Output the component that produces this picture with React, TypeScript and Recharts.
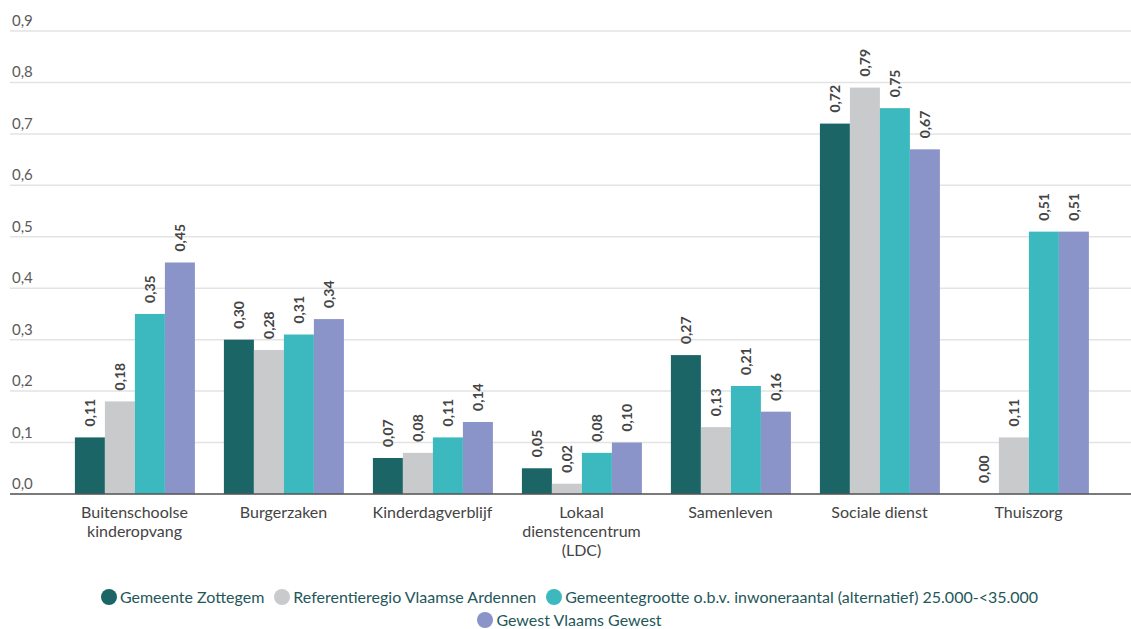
import { BarChart, Bar, XAxis, YAxis, CartesianGrid, Legend } from "recharts";

const categories = [
	"Buitenschoolse\nkinderopvang",
	"Burgerzaken",
	"Kinderdagverblijf",
	"Lokaal\ndienstencentrum\n(LDC)",
	"Samenleven",
	"Sociale dienst",
	"Thuiszorg",
];

const zottegem = [0.11, 0.3, 0.07, 0.05, 0.27, 0.72, 0.0];
const referentieregio = [0.18, 0.28, 0.08, 0.02, 0.13, 0.79, 0.11];
const gemeentegrootte = [0.35, 0.31, 0.11, 0.08, 0.21, 0.75, 0.51];
const gewest = [0.45, 0.34, 0.14, 0.1, 0.16, 0.67, 0.51];

const yTicks = [0, 0.1, 0.2, 0.3, 0.4, 0.5, 0.6, 0.7, 0.8, 0.9];

const series = [
	{ key: "zottegem", name: "Gemeente Zottegem", color: "#1b6567" },
	{ key: "referentieregio", name: "Referentieregio Vlaamse Ardennen", color: "#c9cacc" },
	{ key: "gemeentegrootte", name: "Gemeentegrootte o.b.v. inwoneraantal (alternatief) 25.000-<35.000", color: "#3bb9be" },
	{ key: "gewest", name: "Gewest Vlaams Gewest", color: "#8a94c8" },
];

const data = categories.map((cat, i) => ({
	cat,
	zottegem: zottegem[i],
	referentieregio: referentieregio[i],
	gemeentegrootte: gemeentegrootte[i],
	gewest: gewest[i],
}));

const FONT = "Lato, 'Noto Sans', sans-serif";

const fmt = (v: number, d: number) => v.toFixed(d).replace(".", ",");

const XTick = (props: any) => {
	const { x, y, payload } = props;
	const lines = String(payload.value).split("\n");
	return (
		<text x={x} y={y} textAnchor="middle" fill="#444" fontSize={16} fontFamily={FONT}>
			{lines.map((l, i) => (
				<tspan key={i} x={x} dy={i === 0 ? 16 : 19}>
					{l}
				</tspan>
			))}
		</text>
	);
};

const YTick = (props: any) => {
	const { y, payload } = props;
	return (
		<text x={12} y={y - 5} textAnchor="start" fill="#5a5a5a" fontSize={15} fontFamily={FONT}>
			{fmt(payload.value, 1)}
		</text>
	);
};

// bar rect plus rotated value label (so zero values still get a label)
const BarShape = (props: any) => {
	const { x, y, width, height, fill, value } = props;
	const v = Array.isArray(value) ? value[1] - value[0] : value;
	const cx = x + width / 2;
	const cy = y - 11;
	return (
		<g>
			{height > 0 && <rect x={x} y={y} width={width} height={height} fill={fill} />}
			<text
				x={cx}
				y={cy}
				transform={`rotate(-90, ${cx}, ${cy})`}
				textAnchor="start"
				dominantBaseline="central"
				fill="#444"
				fontSize={14}
				fontWeight="bold"
				fontFamily={FONT}
			>
				{fmt(v, 2)}
			</text>
		</g>
	);
};

const LegendContent = () => (
	<div
		style={{
			display: "flex",
			flexWrap: "wrap",
			justifyContent: "center",
			maxWidth: 980,
			margin: "0 auto",
			paddingTop: 16,
			paddingLeft: 18,
			fontFamily: FONT,
			fontSize: 16,
			color: "#24575a",
			lineHeight: "23px",
		}}
	>
		{series.map((s) => (
			<span key={s.key} style={{ display: "inline-flex", alignItems: "center", marginRight: 10 }}>
				<span
					style={{
						width: 16,
						height: 16,
						borderRadius: "50%",
						background: s.color,
						display: "inline-block",
						marginRight: 3,
					}}
				/>
				{s.name}
			</span>
		))}
	</div>
);

export default function App() {
	return (
		<div style={{ position: "absolute", left: 0, top: 0, background: "#fff" }}>
			<BarChart
				width={1131}
				height={629}
				data={data}
				margin={{ top: 31, right: 0, left: 0, bottom: 0 }}
				barCategoryGap="10%"
				barGap={0}
			>
				<CartesianGrid vertical={false} stroke="#e3e3e3" strokeWidth={1.5} />
				<YAxis
					width={10}
					domain={[0, 0.9]}
					ticks={yTicks}
					axisLine={false}
					tickLine={false}
					tick={<YTick />}
					interval={0}
				/>
				<XAxis
					dataKey="cat"
					height={75}
					axisLine={{ stroke: "#555", strokeWidth: 1.5 }}
					tickLine={false}
					tick={<XTick />}
					interval={0}
					padding={{ left: 50, right: 28 }}
				/>
				<Legend verticalAlign="bottom" height={60} content={<LegendContent />} />
				{series.map((s) => (
					<Bar
						key={s.key}
						dataKey={s.key}
						name={s.name}
						fill={s.color}
						isAnimationActive={false}
						shape={<BarShape />}
					/>
				))}
			</BarChart>
		</div>
	);
}
